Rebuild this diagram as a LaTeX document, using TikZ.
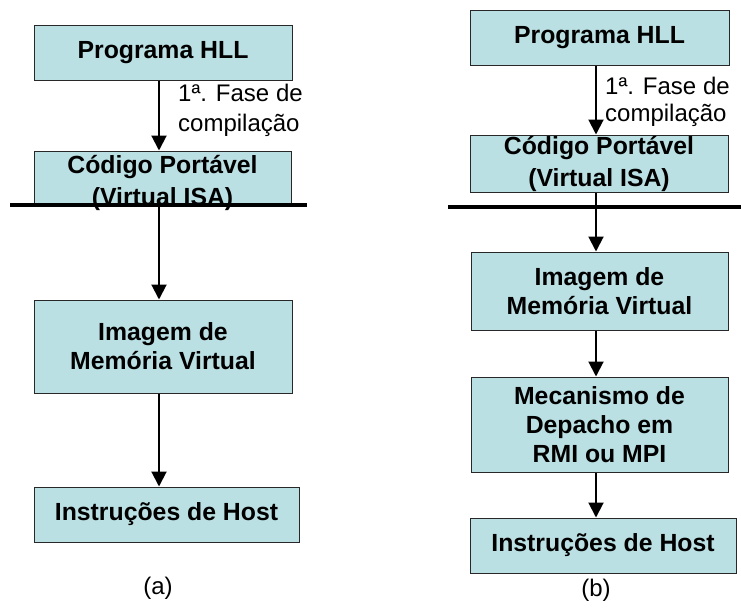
\documentclass[tikz,border=0pt]{standalone}
\usepackage{fontspec}
\setmainfont{Liberation Sans}
\usetikzlibrary{arrows.meta}
\definecolor{boxfill}{RGB}{187,224,227}
\definecolor{boxline}{RGB}{40,40,40}
\tikzset{
  box/.style={draw=boxline, line width=1pt, fill=boxfill, rectangle, inner sep=0pt,
    align=center, font=\fontsize{24.8}{29}\selectfont\bfseries},
  arr/.style={line width=2pt, -{Triangle[width=15pt,length=15pt]}},
  sepline/.style={line width=4pt},
  lbl/.style={align=left, anchor=west, inner sep=0pt, font=\fontsize{24}{30}\selectfont},
  captext/.style={inner sep=0pt, font=\fontsize{24}{29}\selectfont}
}
\begin{document}
\begin{tikzpicture}[x=1pt,y=-1pt]
\useasboundingbox (0,0) rectangle (741,608);
% ---------- (a) ----------
\coordinate (ax) at (159,0);
\node[box, minimum width=258pt, minimum height=55pt] (pa) at (163,52.5) {Programa HLL};
\node[box, minimum width=257pt, minimum height=54pt, font=\fontsize{24.8}{32}\selectfont\bfseries, text depth=0pt] (ca) at (162.5,178) {\raisebox{-4pt}{Código Portável}\\\raisebox{-4pt}{(Virtual ISA)}};
\node[box, minimum width=258pt, minimum height=93pt] (ia) at (163,346.5) {Imagem de\\Memória Virtual};
\node[box, minimum width=265pt, minimum height=55pt] (ha) at (166.5,514.5) {Instruções de Host};
\coordinate (la1) at (10,205);
\coordinate (la2) at (307,205);
\draw[sepline] (la1) -- (la2);
\draw[arr] (pa.south -| ax) -- (ca.north -| ax);
\draw[arr] (la1 -| ax) -- (ia.north -| ax);
\draw[arr] (ia.south -| ax) -- (ha.north -| ax);
\node[lbl] (fa) at (178,110) {1ª. Fase de\\compilação};
\node[captext] (capa) at (158,588) {(a)};
% ---------- (b) ----------
\coordinate (bx) at (596,0);
\node[box, minimum width=259pt, minimum height=55pt] (pb) at (599.5,37.5) {Programa HLL};
\node[box, minimum width=258pt, minimum height=57pt, font=\fontsize{24.8}{32}\selectfont\bfseries] (cb) at (599,163.5) {Código Portável\\(Virtual ISA)};
\node[box, minimum width=257pt, minimum height=78pt] (ib) at (599.5,291) {Imagem de\\Memória Virtual};
\node[box, minimum width=257pt, minimum height=95pt] (mb) at (599.5,424.5) {Mecanismo de\\Depacho em\\ RMI ou MPI};
\node[box, minimum width=266pt, minimum height=55pt] (hb) at (603,545.5) {Instruções de Host};
\coordinate (lb1) at (448,207);
\coordinate (lb2) at (741,207);
\draw[sepline] (lb1) -- (lb2);
\draw[arr] (pb.south -| bx) -- (cb.north -| bx);
\draw[arr] (cb.south -| bx) -- (ib.north -| bx);
\draw[arr] (ib.south -| bx) -- (mb.north -| bx);
\draw[arr] (mb.south -| bx) -- (hb.north -| bx);
\node[lbl, font=\fontsize{24}{27}\selectfont] (fb) at (605,101.5) {1ª. Fase de\\compilação};
\node[captext] (capb) at (596,590) {(b)};
\end{tikzpicture}
\end{document}
